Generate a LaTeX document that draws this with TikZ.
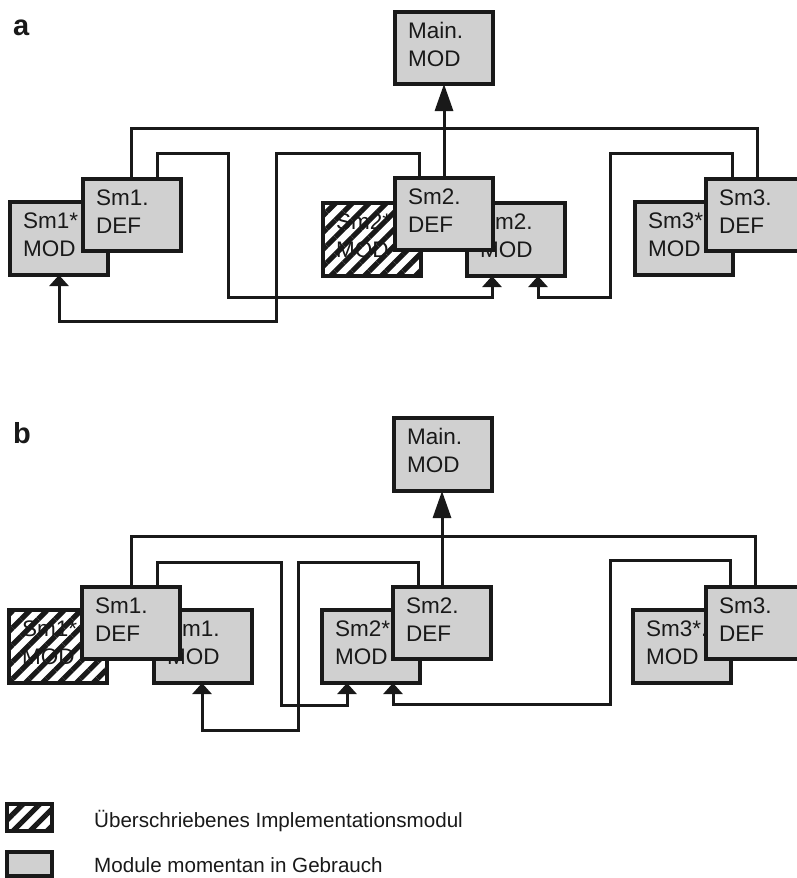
\documentclass[tikz,border=0pt]{standalone}
\usepackage{fontspec}
\setmainfont{Liberation Sans}
\usetikzlibrary{arrows.meta,patterns.meta}
\definecolor{boxgray}{RGB}{208,208,208}
\definecolor{inkcol}{RGB}{25,25,25}
\tikzset{
  conn/.style={line width=3pt, draw=inkcol, line join=miter},
  arrS/.style={-{Triangle[width=19pt,length=11pt]}},
  arrL/.style={-{Triangle[width=18pt,length=27pt]}},
  box/.style={draw=inkcol, line width=3.4pt, fill=boxgray, minimum width=98pt, minimum height=73pt, anchor=north west, inner sep=0pt, outer sep=0pt},
  defbox/.style={box, minimum height=72pt},
  hbox/.style={box, fill=white},
  boxtext/.style={anchor=base west, inner sep=0pt, text=inkcol, font=\fontsize{22.5}{28}\selectfont},
  hatchfill/.style={pattern={Lines[angle=45,distance=12pt,line width=5.2pt]}, pattern color=inkcol},
  legtext/.style={anchor=base west, inner sep=0pt, text=inkcol, font=\fontsize{20.6}{25}\selectfont},
  panel/.style={anchor=base west, inner sep=0pt, text=inkcol, font=\fontsize{29}{34}\selectfont\bfseries},
  hborder/.style={draw=inkcol, line width=3.4pt}
}
% name, x, y, style, line1, line2
\newcommand{\modbox}[6]{%
  \node[#4] (#1) at (#2,#3) {};
  \node[boxtext] (#1-l1) at ([shift={(13,26)}]#1.north west) {#5};
  \node[boxtext] (#1-l2) at ([shift={(13,54)}]#1.north west) {#6};
}
% hatched box: name, x, y, line1, line2
\newcommand{\hatchbox}[5]{%
  \node[hbox] (#1) at (#2,#3) {};
  \node[boxtext] (#1-l1) at ([shift={(13,26)}]#1.north west) {#4};
  \node[boxtext] (#1-l2) at ([shift={(13,54)}]#1.north west) {#5};
  \fill[hatchfill] (#1.north west) rectangle (#1.south east);
  \draw[hborder] (#1.north west) rectangle (#1.south east);
}
\begin{document}
\begin{tikzpicture}[x=1pt,y=-1pt]
\path[use as bounding box, clip] (0,0) rectangle (797,878);
\fill[white] (0,0) rectangle (797,878);

% ---------------- panel a ----------------
\node[panel] (lbla) at (13,35) {a};
\modbox{a1mod}{10}{202}{box}{Sm1*}{MOD}
\modbox{a1def}{83}{179}{defbox}{Sm1.}{DEF}
\hatchbox{a2hat}{323}{203}{Sm2*}{MOD}
\modbox{a2mod}{467}{203}{box}{Sm2.}{MOD}
\modbox{a2def}{395}{178}{defbox}{Sm2.}{DEF}
\modbox{a3mod}{635}{202}{box}{Sm3*.}{MOD}
\modbox{a3def}{706}{179}{defbox}{Sm3.}{DEF}
\modbox{amain}{395}{12}{defbox}{Main.}{MOD}

\coordinate (aT) at (400,128);
\coordinate (a2p) at (228,153); \coordinate (a2q) at (228,297);
\coordinate (a3p) at (276,153); \coordinate (a3q) at (276,321);
\coordinate (a4p) at (610,153); \coordinate (a4q) at (610,297);

\draw[conn,arrL] (a2def.north) -- (a2def.north |- amain.south);
\draw[conn] ([xshift=48pt]a1def.north west) |- (aT) -| ([xshift=51pt]a3def.north west);
\draw[conn,arrS] ([xshift=74pt]a1def.north west) |- (a2p) -- (a2q) -| ([xshift=25pt]a2mod.south west);
\draw[conn,arrS] ([xshift=24pt]a2def.north west) |- (a3p) -- (a3q) -| ([xshift=49pt]a1mod.south west);
\draw[conn,arrS] ([xshift=26pt]a3def.north west) |- (a4p) -- (a4q) -| ([xshift=71pt]a2mod.south west);

% ---------------- panel b ----------------
\node[panel] (lblb) at (13,443) {b};
\hatchbox{b1hat}{9}{610}{Sm1*}{MOD}
\modbox{b1mod}{154}{610}{box}{Sm1.}{MOD}
\modbox{b1def}{82}{587}{defbox}{Sm1.}{DEF}
\modbox{b2mod}{322}{610}{box}{Sm2*}{MOD}
\modbox{b2def}{393}{587}{defbox}{Sm2.}{DEF}
\modbox{b3mod}{633}{610}{box}{Sm3*.}{MOD}
\modbox{b3def}{706}{587}{defbox}{Sm3.}{DEF}
\modbox{bmain}{394}{418}{box}{Main.}{MOD}

\coordinate (bT) at (400,536);
\coordinate (b2p) at (281,562); \coordinate (b2q) at (281,705);
\coordinate (b3p) at (298,562); \coordinate (b3q) at (298,730);
\coordinate (b4p) at (610,560); \coordinate (b4q) at (610,704);

\draw[conn,arrL] (b2def.north) -- (b2def.north |- bmain.south);
\draw[conn] ([xshift=49pt]b1def.north west) |- (bT) -| ([xshift=49pt]b3def.north west);
\draw[conn,arrS] ([xshift=75pt]b1def.north west) |- (b2p) -- (b2q) -| ([xshift=25pt]b2mod.south west);
\draw[conn,arrS] ([xshift=25pt]b2def.north west) |- (b3p) -- (b3q) -| ([xshift=48pt]b1mod.south west);
\draw[conn,arrS] ([xshift=24pt]b3def.north west) |- (b4p) -- (b4q) -| ([xshift=71pt]b2mod.south west);

% ---------------- legend ----------------
\node[hbox, minimum width=45pt, minimum height=27pt, line width=4pt] (leg1) at (7,804) {};
\fill[hatchfill] (leg1.north west) rectangle (leg1.south east);
\draw[hborder, line width=4pt] (leg1.north west) rectangle (leg1.south east);
\node[box, minimum width=45pt, minimum height=24pt, line width=4pt] (leg2) at (7,852) {};
\node[legtext] (leg1t) at (94,827) {Überschriebenes Implementationsmodul};
\node[legtext] (leg2t) at (94,872) {Module momentan in Gebrauch};
\end{tikzpicture}
\end{document}
